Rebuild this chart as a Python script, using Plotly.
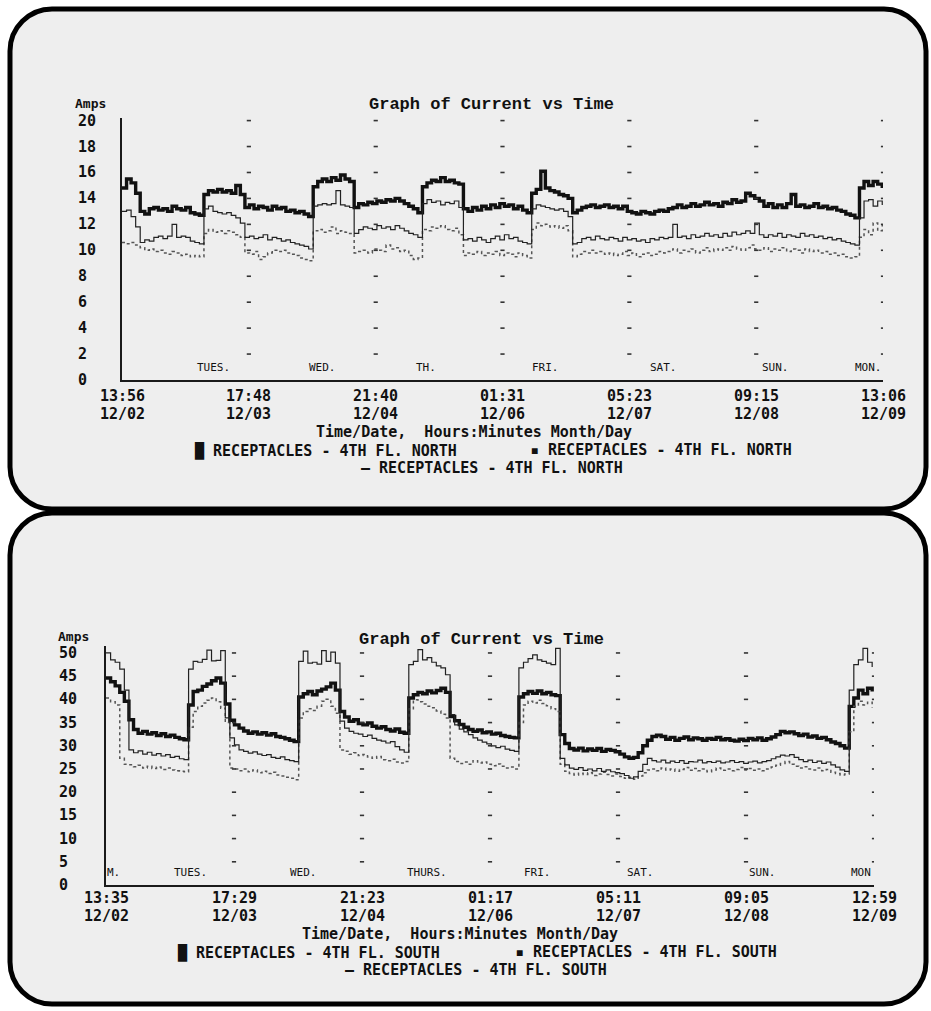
import pandas as pd
import plotly.graph_objects as go

FIG_W, FIG_H = 931, 1011


def px(x):
    return x / FIG_W


def py(y):
    return 1 - y / FIG_H


# ---------------- DATA ----------------
series_names_top = ["RECEPTACLES - 4TH FL. NORTH"] * 3
series_names_bot = ["RECEPTACLES - 4TH FL. SOUTH"] * 3

top_start = "1991-12-02 13:56"
top_end = "1991-12-09 13:06"
bot_start = "1991-12-02 13:35"
bot_end = "1991-12-09 12:59"

top_tick_dt = ["1991-12-02 13:56", "1991-12-03 17:48", "1991-12-04 21:40", "1991-12-06 01:31",
               "1991-12-07 05:23", "1991-12-08 09:15", "1991-12-09 13:06"]
top_tick_hm = ["13:56", "17:48", "21:40", "01:31", "05:23", "09:15", "13:06"]
top_tick_md = ["12/02", "12/03", "12/04", "12/06", "12/07", "12/08", "12/09"]

bot_tick_dt = ["1991-12-02 13:35", "1991-12-03 17:29", "1991-12-04 21:23", "1991-12-06 01:17",
               "1991-12-07 05:11", "1991-12-08 09:05", "1991-12-09 12:59"]
bot_tick_hm = ["13:35", "17:29", "21:23", "01:17", "05:11", "09:05", "12:59"]
bot_tick_md = ["12/02", "12/03", "12/04", "12/06", "12/07", "12/08", "12/09"]

top_yticks = [0, 2, 4, 6, 8, 10, 12, 14, 16, 18, 20]
bot_yticks = [0, 5, 10, 15, 20, 25, 30, 35, 40, 45, 50]

top_day_labels = ["TUES.", "WED.", "TH.", "FRI.", "SAT.", "SUN.", "MON."]
bot_day_labels = ["M.", "TUES.", "WED.", "THURS.", "FRI.", "SAT.", "SUN.", "MON"]

# hourly readings (Amps), one row per 24 h from the start time
top_thick = (
    [14.8, 15.5, 15.2, 14.4, 13.0, 12.8, 13.2, 13.3, 13.1, 13.2, 13.0, 13.4, 13.2, 13.1, 13.3, 12.9, 12.8, 12.7, 14.3, 14.6, 14.5, 14.7, 14.5, 14.6]
    + [14.4, 15.0, 14.3, 13.3, 13.5, 13.2, 13.4, 13.3, 13.1, 13.4, 13.2, 13.3, 13.0, 13.1, 12.9, 13.0, 12.8, 12.6, 14.9, 15.3, 15.5, 15.3, 15.6, 15.4]
    + [15.8, 15.5, 15.3, 13.3, 13.6, 13.5, 13.7, 13.6, 13.8, 13.7, 13.9, 13.8, 14.0, 13.8, 13.6, 13.4, 13.2, 12.9, 14.9, 15.2, 15.4, 15.3, 15.6, 15.3]
    + [15.4, 15.2, 15.1, 13.2, 13.0, 13.3, 13.1, 13.4, 13.2, 13.5, 13.3, 13.6, 13.4, 13.5, 13.2, 13.4, 13.1, 12.9, 14.4, 14.7, 16.1, 14.8, 14.6, 14.5]
    + [14.3, 14.2, 14.0, 12.9, 13.1, 13.3, 13.4, 13.5, 13.3, 13.4, 13.5, 13.3, 13.4, 13.2, 13.4, 13.0, 12.9, 12.8, 13.0, 12.9, 12.8, 13.0, 13.1, 13.0]
    + [13.2, 13.3, 13.5, 13.3, 13.4, 13.6, 13.4, 13.5, 13.7, 13.5, 13.6, 13.4, 13.7, 13.6, 13.9, 13.7, 13.8, 14.4, 14.2, 14.0, 13.8, 13.4, 13.6, 13.3]
    + [13.5, 13.3, 13.6, 14.3, 13.4, 13.5, 13.3, 13.4, 13.6, 13.3, 13.4, 13.2, 13.3, 13.1, 13.0, 12.8, 12.7, 12.5, 14.8, 15.3, 15.0, 15.3, 15.1, 14.8]
)
top_dotted = (
    [10.6, 10.5, 10.6, 10.4, 10.2, 10.0, 10.1, 9.9, 10.0, 9.8, 9.7, 9.9, 9.8, 9.6, 9.7, 9.5, 9.6, 9.5, 11.3, 11.6, 11.4, 11.5, 11.3, 11.5]
    + [11.4, 11.2, 11.0, 9.8, 9.7, 9.9, 9.3, 9.5, 9.8, 10.0, 9.9, 10.0, 9.8, 9.7, 9.6, 9.4, 9.3, 9.2, 11.5, 11.6, 11.4, 11.5, 11.8, 11.3]
    + [11.5, 11.4, 11.3, 9.8, 9.9, 10.0, 9.8, 10.1, 10.0, 9.9, 10.4, 10.1, 10.2, 9.9, 10.0, 9.6, 9.3, 9.4, 11.6, 11.5, 11.8, 11.7, 11.9, 11.6]
    + [11.5, 11.7, 11.2, 9.6, 9.8, 9.7, 9.9, 9.6, 9.8, 9.7, 9.9, 9.6, 9.8, 9.7, 9.5, 9.8, 9.6, 9.4, 11.6, 12.1, 11.9, 12.0, 11.8, 11.9]
    + [11.7, 11.9, 11.5, 9.5, 9.7, 9.9, 9.8, 10.0, 9.8, 9.9, 9.7, 9.8, 9.6, 9.7, 9.9, 9.6, 9.8, 9.5, 9.7, 9.8, 9.6, 9.7, 9.9, 9.8]
    + [9.9, 10.1, 9.8, 10.0, 9.9, 10.1, 9.8, 10.0, 10.2, 9.9, 10.1, 10.0, 10.2, 10.0, 10.3, 10.1, 10.0, 10.2, 10.4, 10.1, 10.0, 10.2, 9.9, 10.1]
    + [10.0, 10.2, 9.9, 10.1, 10.0, 9.8, 10.1, 9.9, 10.0, 9.8, 9.9, 9.7, 9.8, 9.6, 9.7, 9.5, 9.4, 9.5, 11.0, 11.6, 11.2, 12.1, 11.5, 12.0]
)
top_thin = (
    [13.0, 13.1, 12.6, 11.8, 10.6, 10.8, 10.7, 11.0, 11.1, 10.9, 11.1, 12.0, 11.0, 11.1, 11.0, 10.7, 10.6, 10.5, 13.2, 13.4, 13.0, 12.9, 12.8, 12.9]
    + [12.7, 12.5, 12.1, 11.0, 11.1, 10.9, 11.0, 11.2, 10.8, 11.0, 10.9, 10.7, 10.8, 10.6, 10.5, 10.4, 10.3, 10.1, 13.4, 13.5, 13.6, 13.5, 13.6, 14.6]
    + [13.5, 13.4, 13.3, 11.3, 11.6, 11.8, 11.7, 11.6, 11.9, 11.7, 11.8, 11.6, 11.9, 11.7, 11.5, 11.3, 11.2, 11.0, 13.6, 13.9, 13.7, 13.8, 13.5, 13.7]
    + [13.6, 13.8, 13.3, 10.8, 10.9, 10.7, 11.0, 10.8, 10.6, 10.9, 11.1, 10.8, 11.2, 10.9, 11.0, 10.7, 10.6, 10.5, 13.2, 13.5, 13.4, 13.3, 13.2, 13.1]
    + [13.2, 13.0, 12.6, 10.5, 10.6, 10.9, 11.0, 10.8, 11.1, 10.9, 10.8, 11.0, 10.9, 10.7, 11.0, 10.8, 10.9, 10.7, 10.8, 10.6, 10.9, 10.8, 11.0, 10.9]
    + [11.0, 12.0, 11.0, 11.1, 10.9, 11.2, 11.0, 11.1, 11.3, 11.1, 11.2, 11.0, 11.3, 11.1, 11.4, 11.2, 11.3, 11.5, 11.3, 12.1, 11.2, 11.0, 11.2, 11.1]
    + [11.3, 11.0, 11.2, 11.1, 11.0, 11.3, 11.1, 11.2, 11.0, 11.1, 10.9, 11.0, 10.8, 10.9, 10.7, 10.6, 10.5, 10.4, 12.5, 13.8, 13.9, 13.4, 13.8, 13.5]
)

bot_thick = (
    [44.6, 43.8, 42.9, 41.5, 39.6, 35.6, 33.5, 32.7, 33.1, 32.5, 32.8, 32.2, 32.6, 32.0, 32.3, 31.8, 31.5, 31.3, 38.8, 41.7, 42.0, 42.8, 43.3, 44.0]
    + [44.6, 43.5, 39.0, 35.5, 34.5, 33.8, 33.2, 32.7, 33.0, 32.5, 32.8, 32.3, 32.6, 32.0, 31.8, 31.5, 31.2, 30.9, 40.5, 41.2, 41.7, 41.0, 41.8, 42.2]
    + [42.7, 43.5, 42.0, 37.4, 36.2, 35.3, 35.6, 34.8, 34.5, 34.9, 34.2, 33.8, 34.1, 33.5, 33.2, 33.6, 32.9, 32.7, 40.3, 41.0, 41.5, 41.2, 41.8, 41.4]
    + [41.9, 42.4, 41.5, 36.3, 35.4, 34.6, 34.0, 33.5, 33.1, 33.4, 32.8, 33.0, 32.5, 32.7, 32.2, 32.0, 31.8, 31.7, 40.5, 41.2, 41.7, 41.3, 41.8, 41.2]
    + [41.5, 41.0, 40.8, 32.4, 30.5, 29.4, 29.1, 29.5, 28.9, 29.3, 29.0, 29.4, 28.8, 29.2, 29.0, 28.7, 28.2, 27.6, 27.3, 27.5, 28.5, 30.0, 31.2, 32.0]
    + [32.3, 32.0, 31.4, 31.8, 31.2, 31.6, 31.9, 31.3, 31.7, 31.5, 31.2, 31.6, 31.4, 31.8, 31.3, 31.5, 31.2, 31.0, 31.4, 31.1, 31.6, 31.3, 31.7, 31.2]
    + [31.5, 31.9, 32.4, 33.1, 32.8, 33.0, 32.6, 32.2, 32.5, 31.9, 32.1, 31.6, 31.8, 31.3, 30.8, 30.5, 30.0, 29.5, 38.5, 40.3, 42.0, 41.2, 42.4, 41.7]
)
bot_dotted = (
    [40.3, 39.5, 38.8, 27.3, 26.0, 25.9, 25.5, 25.8, 25.2, 25.6, 25.1, 25.4, 24.9, 25.2, 24.8, 24.6, 24.5, 24.4, 34.0, 37.4, 38.5, 39.2, 39.8, 40.3]
    + [39.5, 38.1, 35.0, 25.2, 25.0, 24.6, 25.0, 24.4, 24.8, 24.2, 24.5, 24.0, 24.3, 23.7, 23.5, 23.2, 23.0, 22.7, 36.0, 37.4, 38.0, 37.6, 38.5, 39.6]
    + [40.0, 38.5, 37.0, 29.1, 28.8, 28.2, 28.5, 27.9, 28.1, 27.6, 27.3, 27.7, 27.0, 26.8, 27.1, 26.5, 26.3, 26.6, 38.0, 39.9, 39.5, 39.0, 38.5, 38.2]
    + [37.5, 36.8, 36.0, 27.3, 26.6, 26.2, 26.5, 26.0, 26.8, 26.3, 26.5, 26.0, 25.7, 26.1, 25.6, 25.2, 25.4, 25.0, 35.0, 38.8, 39.6, 39.2, 39.8, 39.1]
    + [38.6, 38.0, 37.4, 26.0, 24.5, 24.0, 23.7, 24.1, 23.8, 24.2, 23.6, 23.9, 24.3, 23.8, 23.5, 23.9, 23.4, 23.0, 23.2, 22.8, 23.5, 24.2, 24.8, 25.0]
    + [24.6, 25.2, 24.8, 25.0, 24.5, 24.9, 25.3, 24.7, 25.1, 24.6, 25.0, 24.4, 24.8, 25.2, 24.7, 25.0, 24.6, 24.9, 25.3, 24.8, 25.1, 24.7, 25.0, 24.6]
    + [25.0, 25.4, 25.8, 26.2, 26.6, 26.0, 25.6, 25.2, 25.5, 25.0, 24.8, 25.2, 24.6, 24.9, 24.3, 24.0, 23.7, 23.9, 33.0, 38.5, 39.6, 38.8, 39.4, 38.2]
)
bot_thin = (
    [50.0, 48.5, 48.0, 46.5, 42.0, 29.1, 28.5, 28.9, 28.2, 28.6, 28.0, 28.3, 27.8, 28.1, 27.5, 27.7, 27.2, 27.0, 46.5, 48.2, 48.0, 48.6, 50.6, 48.3]
    + [48.4, 50.5, 36.0, 31.7, 30.2, 29.1, 28.8, 28.4, 28.7, 28.2, 27.9, 28.1, 27.5, 27.3, 27.6, 27.0, 26.8, 26.6, 48.2, 50.4, 47.8, 48.0, 47.6, 50.5]
    + [48.2, 50.2, 47.8, 35.3, 33.8, 33.1, 32.7, 32.5, 32.0, 32.3, 31.6, 31.2, 31.0, 30.6, 30.9, 29.8, 29.1, 28.6, 47.5, 48.2, 50.7, 48.5, 49.0, 48.0]
    + [47.2, 46.8, 45.3, 36.7, 34.5, 33.6, 33.0, 32.4, 31.7, 31.2, 30.8, 30.4, 30.0, 29.6, 29.9, 29.3, 29.0, 28.8, 46.8, 48.0, 48.8, 49.6, 48.5, 48.2]
    + [47.8, 47.5, 51.0, 27.3, 25.9, 25.2, 24.9, 25.3, 24.7, 25.0, 24.6, 25.1, 24.5, 24.8, 24.4, 24.2, 24.0, 23.6, 23.0, 23.3, 24.5, 26.0, 27.3, 26.8]
    + [26.5, 26.9, 26.3, 26.7, 26.4, 26.8, 26.2, 26.6, 26.5, 26.9, 26.3, 26.6, 26.4, 26.7, 26.3, 26.5, 26.8, 26.4, 26.6, 26.2, 26.5, 26.7, 26.3, 26.6]
    + [26.8, 27.2, 27.6, 28.0, 27.8, 28.1, 27.5, 27.0, 26.6, 26.9, 26.4, 26.7, 26.2, 26.5, 25.9, 25.4, 24.8, 24.5, 42.0, 47.5, 48.5, 51.0, 48.0, 47.0]
)

# ---------------- LAYOUT POSITIONS ----------------
top_day_hours = [20.0, 44.0, 66.7, 93.0, 119.0, 143.6, 163.9]
bot_day_hours = [1.6, 18.4, 43.0, 70.0, 94.1, 116.5, 143.2, 164.5]

MONO = "DejaVu Sans Mono"
TITLE_FONT = "Liberation Mono"
INK = "#111111"

top_t = pd.date_range(top_start, periods=len(top_thick), freq="h")
bot_t = pd.date_range(bot_start, periods=len(bot_thick), freq="h")

fig = go.Figure()

styles = [
    dict(color="#111111", width=3.4),
    dict(color="#555555", width=1.5, dash="dot"),
    dict(color="#222222", width=1.2),
]

for vals, name, st in zip([top_thick, top_dotted, top_thin], series_names_top, styles):
    fig.add_trace(go.Scatter(x=top_t, y=vals, name=name, mode="lines", line=dict(shape="hv", **st),
                             xaxis="x", yaxis="y", showlegend=False))
for vals, name, st in zip([bot_thick, bot_dotted, bot_thin], series_names_bot, styles):
    fig.add_trace(go.Scatter(x=bot_t, y=vals, name=name, mode="lines", line=dict(shape="hv", **st),
                             xaxis="x2", yaxis="y2", showlegend=False))

# dotted grid marks at tick intersections
for ticks_dt, yticks, xa, ya in [(top_tick_dt, top_yticks, "x", "y"), (bot_tick_dt, bot_yticks, "x2", "y2")]:
    gx, gy = [], []
    for t in ticks_dt[1:]:
        for v in yticks[1:]:
            gx.append(t)
            gy.append(v)
    fig.add_trace(go.Scatter(x=gx, y=gy, mode="markers", xaxis=xa, yaxis=ya, showlegend=False,
                             marker=dict(symbol="line-ew", size=3, line=dict(width=1.6, color="#333"))))


def rrect(x0, y0, x1, y1, r):
    k = 0.552 * r
    pts = [
        ("M", [(x0 + r, y0)]),
        ("L", [(x1 - r, y0)]),
        ("C", [(x1 - r + k, y0), (x1, y0 + r - k), (x1, y0 + r)]),
        ("L", [(x1, y1 - r)]),
        ("C", [(x1, y1 - r + k), (x1 - r + k, y1), (x1 - r, y1)]),
        ("L", [(x0 + r, y1)]),
        ("C", [(x0 + r - k, y1), (x0, y1 - r + k), (x0, y1 - r)]),
        ("L", [(x0, y0 + r)]),
        ("C", [(x0, y0 + r - k), (x0 + r - k, y0), (x0 + r, y0)]),
    ]
    s = ""
    for cmd, ps in pts:
        s += cmd + " " + " ".join(f"{px(a):.5f},{py(b):.5f}" for a, b in ps) + " "
    return s + "Z"


shapes = [
    dict(type="path", xref="paper", yref="paper", path=rrect(10, 9, 926, 509, 42),
         fillcolor="#eeeeee", line=dict(color="black", width=5), layer="below"),
    dict(type="path", xref="paper", yref="paper", path=rrect(10, 513, 926, 1004, 42),
         fillcolor="#eeeeee", line=dict(color="black", width=5), layer="below"),
]

ann = []


def text(x, y, s, size, xanchor="center", family=MONO, bold=True, xref="paper", yref="paper", color=INK):
    ann.append(dict(x=x, y=y, xref=xref, yref=yref, text=("<b>%s</b>" % s) if bold else s,
                    showarrow=False, xanchor=xanchor, yanchor="middle",
                    font=dict(family=family, size=size, color=color)))


# titles
text(px(491), py(104), "Graph of Current vs Time", 17, family=TITLE_FONT)
text(px(481), py(639), "Graph of Current vs Time", 17, family=TITLE_FONT)
# Amps
text(px(73), py(103), "Amps", 13, xanchor="left")
text(px(56), py(636), "Amps", 13, xanchor="left")
# y tick labels
for v in top_yticks:
    text(px(76), v, str(v), 15, xanchor="left", yref="y")
for v in bot_yticks:
    text(px(57), v, str(v), 15, xanchor="left", yref="y2")
# x tick labels
for t, hm, md in zip(top_tick_dt, top_tick_hm, top_tick_md):
    text(t, py(396), hm, 15, xref="x")
    text(t, py(414), md, 15, xref="x")
for t, hm, md in zip(bot_tick_dt, bot_tick_hm, bot_tick_md):
    text(t, py(898), hm, 15, xref="x2")
    text(t, py(916), md, 15, xref="x2")
# axis titles
text(px(474), py(432), "Time/Date,\u00a0 Hours:Minutes Month/Day", 15)
text(px(460), py(934), "Time/Date,\u00a0 Hours:Minutes Month/Day", 15)
# legends
text(px(325), py(450), "\u2588 " + series_names_top[0], 15)
text(px(661), py(450), "\u25aa " + series_names_top[1], 15)
text(px(492), py(468), "\u2014 " + series_names_top[2], 15)
text(px(308), py(952), "\u2588 " + series_names_bot[0], 15)
text(px(646), py(952), "\u25aa " + series_names_bot[1], 15)
text(px(476), py(970), "\u2014 " + series_names_bot[2], 15)
# day labels
t0 = pd.Timestamp(top_start)
for lab, h in zip(top_day_labels, top_day_hours):
    text(t0 + pd.Timedelta(hours=h), 0.95, lab, 11, xref="x", yref="y", bold=False, color="#111")
b0 = pd.Timestamp(bot_start)
for lab, h in zip(bot_day_labels, bot_day_hours):
    text(b0 + pd.Timedelta(hours=h), 2.8, lab, 11, xref="x2", yref="y2", bold=False, color="#111")

axis_common = dict(showline=True, linecolor="#1a1a1a", linewidth=2, showgrid=False, zeroline=False,
                   showticklabels=False, ticks="", fixedrange=True)

fig.update_layout(
    width=FIG_W, height=FIG_H,
    margin=dict(l=0, r=0, t=0, b=0),
    paper_bgcolor="white",
    plot_bgcolor="rgba(0,0,0,0)",
    showlegend=False,
    hovermode=False,
    xaxis=dict(domain=[px(122), px(883)], range=[top_start, top_end], type="date", anchor="y", **axis_common),
    yaxis=dict(domain=[py(380), py(118)], range=[0, 20.2], anchor="x", **axis_common),
    xaxis2=dict(domain=[px(106), px(874)], range=[bot_start, bot_end], type="date", anchor="y2", **axis_common),
    yaxis2=dict(domain=[py(885), py(646)], range=[0, 51.5], anchor="x2", **axis_common),
    shapes=shapes,
    annotations=ann,
)

fig.write_html(
    "out.html",
    config={"displayModeBar": False},
    post_script="document.body.style.margin='0px';document.body.style.overflow='hidden';",
)
